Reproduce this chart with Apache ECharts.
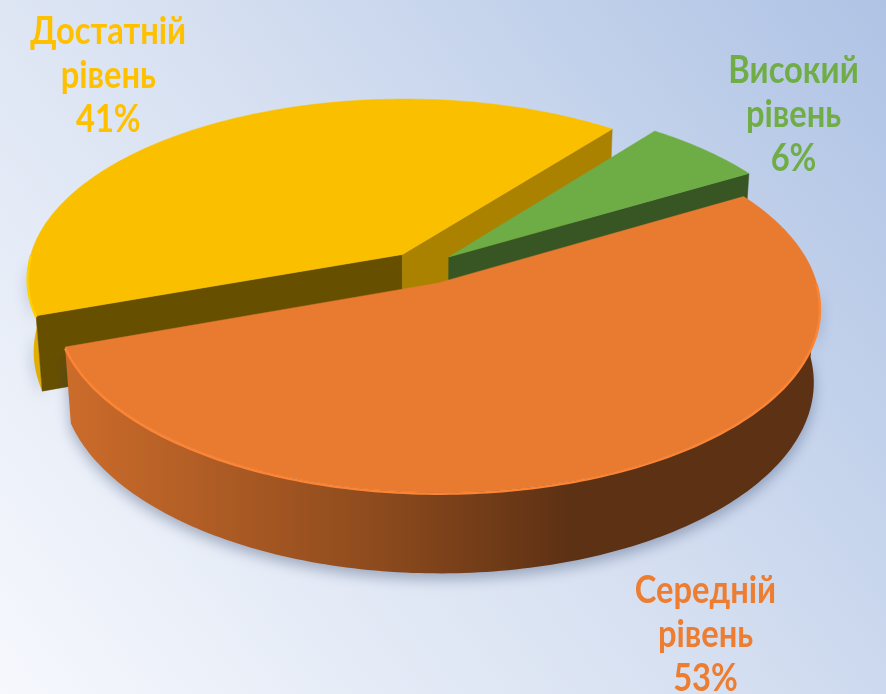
<!DOCTYPE html>
<html>
<head>
<meta charset="utf-8">
<script src="https://cdn.jsdelivr.net/npm/echarts@6/dist/echarts.min.js"></script>
<style>
html, body { margin: 0; padding: 0; }
#myChart { width: 886px; height: 694px; }
</style>
</head>
<body>
<div id="myChart"></div>
<script>
// дані діаграми
const categories = ['Високий рівень', 'Середній рівень', 'Достатній рівень']
const values = [6, 53, 41]
const topColors = ['#6EAC46', '#E97B31', '#FAC000']
const labelColors = ['#70AD47', '#ED7D31', '#FFC000']

// 3D вигляд (перспектива як в Excel)
const view = { cx: 0.477, cy: 0.386, r: 375, depth: 85, explode: 35, tilt: 28.4, dist: 2600, startAngle: 38 }
const labelFont = 'bold 38px Lato'
const labelScale = 0.86
const labelLine = 44
const labelGap = 25

function rad(d) { return d * Math.PI / 180 }

const total = values.reduce((a, b) => a + b, 0)
const slices = []
let acc = view.startAngle
values.forEach(v => {
  const a0 = acc
  acc += v / total * 360
  slices.push({ a0: a0, a1: acc, mid: (a0 + acc) / 2 })
})
// порядок малювання: спочатку задні сектори
const order = slices.map((s, i) => i).sort((i, j) => Math.cos(rad(slices[j].mid)) - Math.cos(rad(slices[i].mid)))

function shade(hex, k) {
  const n = parseInt(hex.slice(1), 16)
  const c = [(n >> 16) & 255, (n >> 8) & 255, n & 255].map(x => Math.min(255, Math.round(x * k)))
  return 'rgb(' + c.join(',') + ')'
}

function project(u, v, h, W, H) {
  const a = rad(view.tilt)
  const z = view.dist - v * Math.cos(a) - h * Math.sin(a)
  const k = view.dist / z
  return [W * view.cx + u * k, H * view.cy + (v * Math.sin(a) - h * Math.cos(a)) * k]
}

// ширина тексту підпису
const measureCtx = document.createElement('canvas').getContext('2d')
function textWidth(lines) {
  measureCtx.font = labelFont
  return Math.max.apply(null, lines.map(l => measureCtx.measureText(l).width)) * labelScale
}

function renderItem(params, api) {
  const i = params.dataIndex
  const W = api.getWidth()
  const H = api.getHeight()
  const s = slices[i]
  const R = view.r
  const T = view.depth
  const base = topColors[i]
  const ox = Math.sin(rad(s.mid)) * view.explode
  const oy = -Math.cos(rad(s.mid)) * view.explode
  const P = (ang, rr, h) => project(ox + Math.sin(rad(ang)) * rr, oy - Math.cos(rad(ang)) * rr, h, W, H)
  const arc = (from, to, h) => {
    const n = Math.max(2, Math.ceil(Math.abs(to - from)))
    const pts = []
    for (let k = 0; k <= n; k++) pts.push(P(from + (to - from) * k / n, R, h))
    return pts
  }
  const z0 = order.indexOf(i) * 10
  const children = []
  const fronts = [[90, 270], [450, 630]]

  // зовнішня стінка (тільки передня частина)
  const x0 = W * view.cx - R - 30
  const x1 = W * view.cx + R + 30
  const wallFill = {
    type: 'linear', x: x0, y: 0, x2: x1, y2: 0, global: true,
    colorStops: [
      { offset: 0, color: shade(base, 0.92) },
      { offset: 0.45, color: shade(base, 0.6) },
      { offset: 0.68, color: shade(base, 0.4) },
      { offset: 1, color: shade(base, 0.4) }
    ]
  }
  fronts.forEach(rg => {
    const w0 = Math.max(s.a0, rg[0])
    const w1 = Math.min(s.a1, rg[1])
    if (w1 <= w0) return
    const pts = arc(w0, w1, 0).concat(arc(w0, w1, -T).reverse())
    children.push({
      type: 'polygon', z2: z0,
      shape: { points: pts },
      style: { fill: wallFill, shadowBlur: 14, shadowOffsetY: 6, shadowColor: 'rgba(30,50,90,0.35)' }
    })
  })

  // бічні грані розрізу
  const apexTop = P(0, 0, 0)
  const apexBot = P(0, 0, -T)
  const edges = [[s.a0, s.a0 - 90], [s.a1, s.a1 + 90]]
  edges.forEach(e => {
    const nrm = ((e[1] % 360) + 360) % 360
    if (Math.cos(rad(nrm)) >= 0) return
    const k = 0.4 + 0.0082 * (162 - nrm)
    children.push({
      type: 'polygon', z2: z0 + 1,
      shape: { points: [apexTop, P(e[0], R, 0), P(e[0], R, -T), apexBot] },
      style: { fill: shade(base, k), stroke: shade(base, k), lineWidth: 0.5 }
    })
  })

  // верхня грань
  children.push({
    type: 'polygon', z2: z0 + 2,
    shape: { points: [apexTop].concat(arc(s.a0, s.a1, 0)) },
    style: { fill: base, stroke: base, lineWidth: 0.5 }
  })
  // світлий край зверху
  fronts.forEach(rg => {
    const w0 = Math.max(s.a0, rg[0])
    const w1 = Math.min(s.a1, rg[1])
    if (w1 <= w0) return
    children.push({
      type: 'polyline', z2: z0 + 3,
      shape: { points: arc(w0, w1, -1.5) },
      style: { stroke: shade(base, 1.08), lineWidth: 2.5, fill: null }
    })
  })

  // підпис: блок тексту ставиться зовні від краю сектора
  const lines = categories[i].split(' ').concat([api.value(1) + '%'])
  const back = Math.cos(rad(s.mid)) > 0
  const rimTop = P(s.mid, R, 0)
  const anchor = back ? rimTop : P(s.mid, R, -T)
  let dx = rimTop[0] - apexTop[0]
  let dy = rimTop[1] - apexTop[1]
  const len = Math.sqrt(dx * dx + dy * dy)
  dx /= len
  dy /= len
  const hw = textWidth(lines) / 2
  const hh = lines.length * labelLine / 2
  const lx = anchor[0] + Math.sign(dx) * hw + dx * labelGap
  // передні підписи висять під нижнім краєм
  const ly = back ? anchor[1] + dy * (hh + labelGap) : anchor[1] + hh + dy * labelGap
  children.push({
    type: 'text', z2: 100,
    x: lx, y: ly, scaleX: labelScale,
    style: {
      text: lines.join('\n'),
      x: 0, y: 0,
      fill: labelColors[i],
      font: labelFont,
      lineHeight: labelLine,
      align: 'center', verticalAlign: 'middle'
    }
  })

  return { type: 'group', children: children }
}

const myChart = echarts.init(document.getElementById('myChart'))
myChart.setOption({
  animation: false,
  backgroundColor: {
    type: 'linear', x: 0, y: 1, x2: 1, y2: 0,
    colorStops: [
      { offset: 0, color: '#F6F8FD' },
      { offset: 0.5, color: '#D6E0F1' },
      { offset: 1, color: '#AFC3E5' }
    ]
  },
  series: [
    {
      type: 'custom',
      coordinateSystem: 'none',
      silent: true,
      renderItem: renderItem,
      data: values.map((v, i) => ({ name: categories[i], value: [i, v] }))
    }
  ]
})
</script>
</body>
</html>
